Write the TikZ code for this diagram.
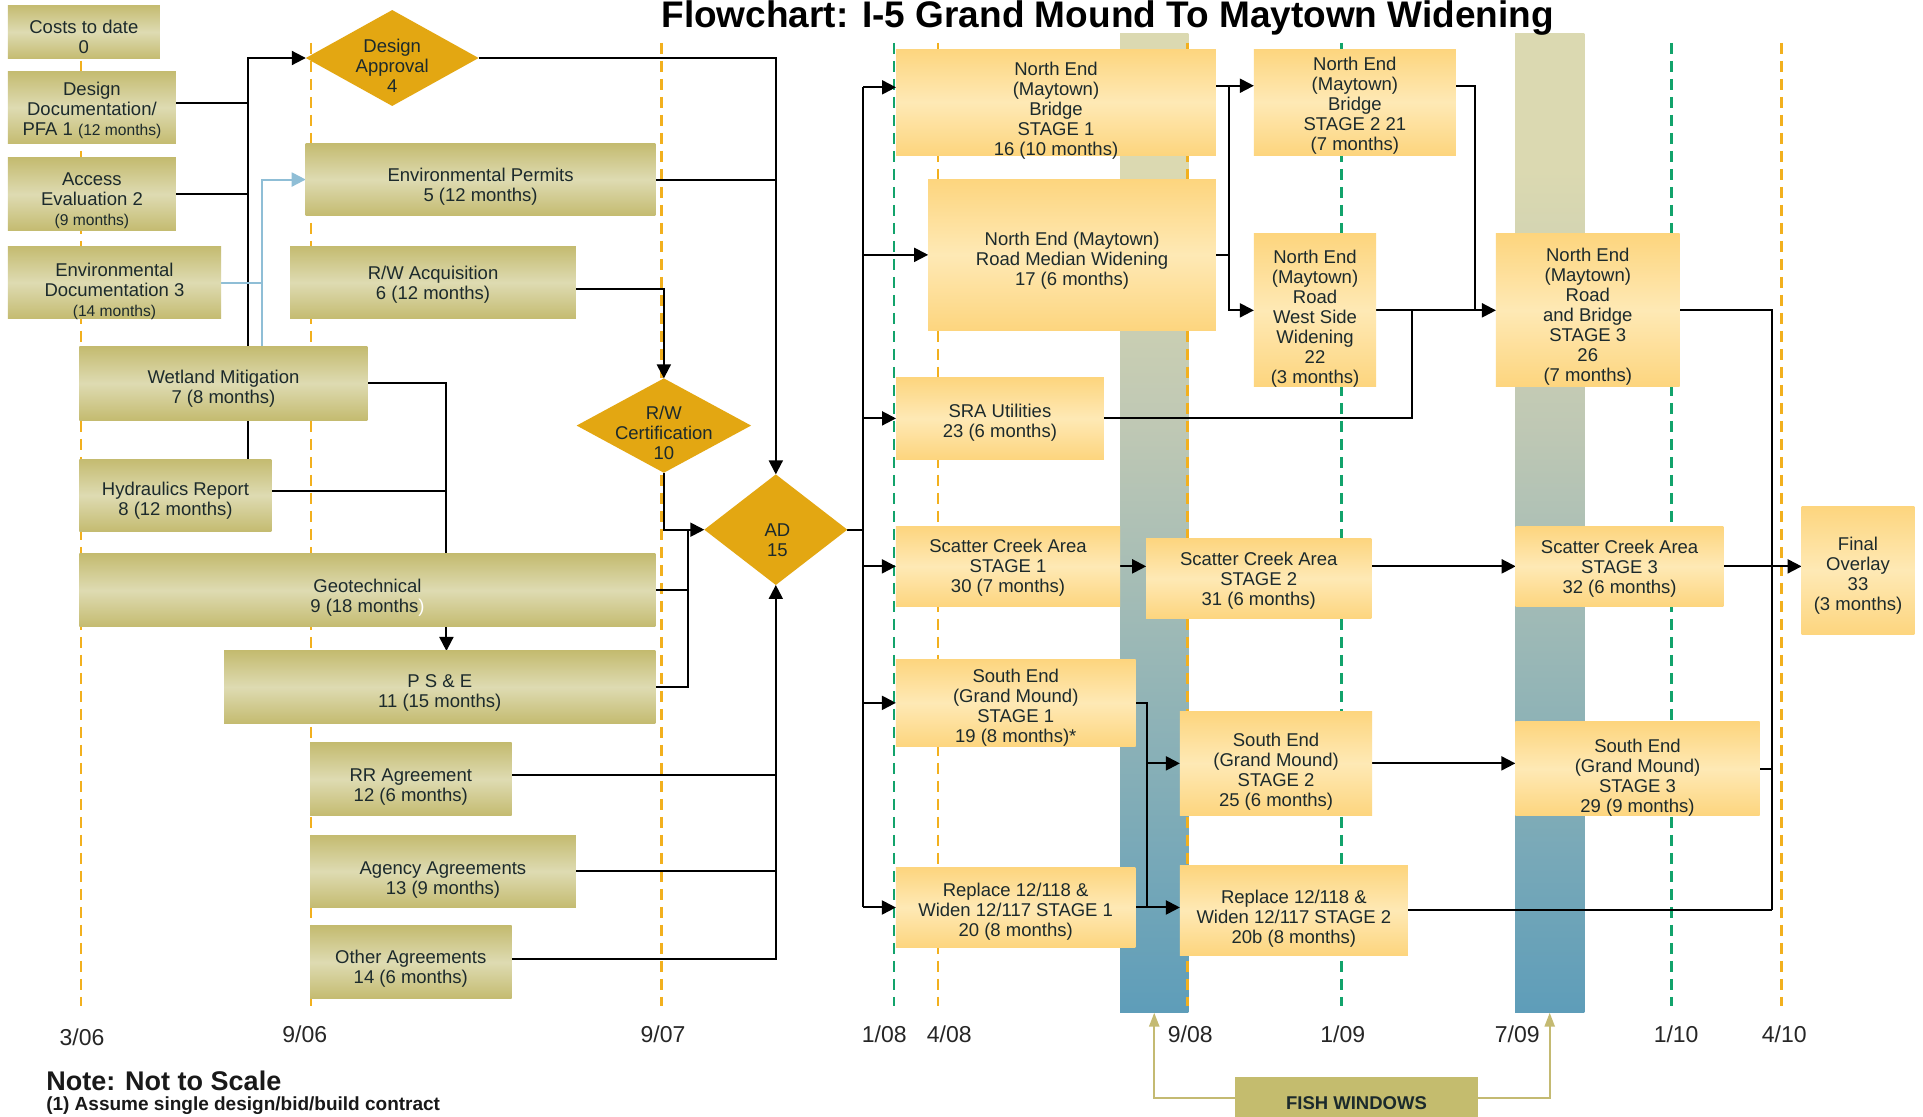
\documentclass[tikz,border=0pt]{standalone}
\usepackage{fontspec}
\setmainfont{Liberation Sans}
\usetikzlibrary{fit,shapes.geometric,arrows.meta,calc}

\definecolor{inkDark}{HTML}{1C2A2C}
\definecolor{boxOlive}{HTML}{C4BB70}
\definecolor{boxOliveLt}{HTML}{DEDBB2}
\definecolor{boxGold}{HTML}{FDD57E}
\definecolor{boxGoldLt}{HTML}{FEE9B5}
\definecolor{diaGold}{HTML}{E3A712}
\definecolor{dashOr}{HTML}{F2B01E}
\definecolor{dashGr}{HTML}{12A36B}
\definecolor{linkBlue}{HTML}{8FBED6}
\definecolor{fishTan}{HTML}{DBD9B1}
\definecolor{fishMid}{HTML}{BFC8B4}
\definecolor{fishBlue}{HTML}{5E9DB9}
\definecolor{tanLine}{HTML}{C4BA72}
\definecolor{tanBox}{HTML}{C4BC6E}

\pgfdeclarelayer{fish}
\pgfdeclarelayer{grid}
\pgfdeclarelayer{links}
\pgfsetlayers{fish,grid,links,main}

\pgfdeclareverticalshading{fishfade}{100bp}{color(0bp)=(fishBlue); color(25bp)=(fishBlue); color(55bp)=(fishMid); color(68bp)=(fishTan); color(100bp)=(fishTan)}

\newcommand\boxfont{\fontsize{9.25}{10}\selectfont}
\newcommand\monthsfont{\fontsize{7.8}{9}\selectfont}

% shaded task box spanning two corners, with its label shifted down by #1
\newcommand\taskbox[6][2pt]{%
  \node[#2, fit={(#4) (#5)}] (#3) {};
  \node[boxtext, yshift=-#1] (#3-t) at (#3.center) {#6};}

\tikzset{
  boxtext/.style={align=center, font=\boxfont, text=inkDark, inner sep=0pt},
  obox/.style={inner sep=0pt, outer sep=0pt, top color=boxOlive, bottom color=boxOlive, middle color=boxOliveLt},
  ybox/.style={inner sep=0pt, outer sep=0pt, top color=boxGold, bottom color=boxGold, middle color=boxGoldLt},
  fishbox/.style={inner sep=0pt, outer sep=0pt, fill=tanBox},
  gate/.style={diamond, fill=diaGold, inner sep=0pt, outer sep=0pt},
  ln/.style={line width=1pt, draw=black},
  arr/.style={ln, -{Triangle[length=7pt,width=7pt]}},
  bl/.style={line width=1pt, draw=linkBlue},
  blarr/.style={bl, -{Triangle[length=7pt,width=7pt]}},
  tanarr/.style={line width=1.2pt, draw=tanLine, -{Triangle[length=7pt,width=5pt]}},
  orline/.style={line width=1.3pt, draw=dashOr, dash pattern=on 5.5pt off 3.5pt},
  grline/.style={line width=1.3pt, draw=dashGr, dash pattern=on 5.5pt off 3.5pt},
  datelbl/.style={font=\fontsize{11.5}{12}\selectfont, text=black!85, inner sep=0pt},
  window/.style={inner sep=0pt, outer sep=0pt, shade, shading=fishfade},
}

\begin{document}
\begin{tikzpicture}[x=0.6132pt, y=-0.6132pt]
\useasboundingbox (0,0) rectangle (1568,910);

% fish windows
\begin{pgfonlayer}{fish}
  \fill[white] (0,0) rectangle (1568,910);
  \node[window, fit={(913.4,27.2) (968.9,825.7)}] (w1) {};
  \node[window, fit={(1235.4,27.2) (1291.8,825.7)}] (w2) {};
\end{pgfonlayer}

% date grid
\begin{pgfonlayer}{grid}
  \foreach \gx in {65.9,253.7,539.3,764.7,968.3,1452.8}
    \draw[orline] (\gx,35) -- (\gx,820);
  \foreach \gx in {728.8,1093.9,1363}
    \draw[grline] (\gx,35) -- (\gx,820);
\end{pgfonlayer}

% title
\node[font=\bfseries\fontsize{18.5}{20}\selectfont, anchor=base, inner sep=0pt] (title) at (903.2,22.5)
  {Flowchart: I-5 Grand Mound To Maytown Widening};

% design phase
\taskbox[2.4pt]{obox}{cd}{6.5,4.1}{130.3,48.1}{Costs to date\\0}
\taskbox[1.3pt]{obox}{dd}{6.5,57.9}{143.4,117.4}{Design\\Documentation/\\PFA 1 {\monthsfont (12 months)}}
\taskbox[3pt]{obox}{ae}{6.5,128.8}{143.4,188.1}{Access\\Evaluation 2\\{\monthsfont (9 months)}}
\taskbox[4.5pt]{obox}{ed}{6.5,200.6}{180.2,260.1}{Environmental\\Documentation 3\\{\monthsfont (14 months)}}
\taskbox[3.7pt]{obox}{ep}{249.3,116.9}{534.4,175.9}{Environmental Permits\\5 (12 months)}
\taskbox[1pt]{obox}{ra}{236.6,200.6}{469.6,260.1}{R/W Acquisition\\6 (12 months)}
\taskbox[2.9pt]{obox}{wm}{64.8,282.7}{299.6,342.5}{Wetland Mitigation\\7 (8 months)}
\taskbox[2.8pt]{obox}{hy}{64.8,374.3}{221.3,433.5}{Hydraulics Report\\8 (12 months)}
\taskbox[3.9pt]{obox}{gt}{64.8,451.7}{534.4,511}{Geotechnical\\9 (18 months\textcolor{white}{)}}
\taskbox[2.9pt]{obox}{ps}{182.7,530.8}{534.4,589.8}{P S \& E\\11 (15 months)}
\taskbox[3.8pt]{obox}{rr}{252.8,605.8}{417.1,665.1}{RR Agreement\\12 (6 months)}
\taskbox[4.4pt]{obox}{ag}{252.8,680.9}{469.5,740.1}{Agency Agreements\\13 (9 months)}
\taskbox[3.4pt]{obox}{ot}{252.8,755}{417.1,814.3}{Other Agreements\\14 (6 months)}

% decision points
\node[gate, minimum width=86.4pt, minimum height=47.95pt] (da) at (319.8,47.3) {};
\node[boxtext, yshift=-3.8pt] (da-t) at (da.center) {Design\\Approval\\4};
\node[gate, minimum width=87.2pt, minimum height=47.2pt] (rc) at (541.3,347) {};
\node[boxtext, yshift=-3.5pt] (rc-t) at (rc.center) {R/W\\Certification\\10};
\node[gate, minimum width=71.5pt, minimum height=55.3pt] (ad) at (632.6,431.9) {};
\node[boxtext, yshift=-5.2pt, xshift=0.8pt] (ad-t) at (ad.center) {AD\\15};

% construction stages
\taskbox[4.4pt]{ybox}{n1}{730.6,40}{991.5,126.4}{North End\\(Maytown)\\Bridge\\STAGE 1\\16 (10 months)}
\taskbox[1.6pt]{ybox}{n2}{1022.4,40}{1187.1,126.4}{North End\\(Maytown)\\Bridge\\STAGE 2 21\\(7 months)}
\taskbox[3pt]{ybox}{nm}{756.8,146}{991.5,269.6}{North End (Maytown)\\Road Median Widening\\17 (6 months)}
\taskbox[4pt]{ybox}{nw}{1022.4,190.8}{1122.1,315.3}{North End\\(Maytown)\\Road\\West Side\\Widening\\22\\(3 months)}
\taskbox[3.3pt]{ybox}{n3}{1219.8,190.8}{1369.5,315.3}{North End\\(Maytown)\\Road\\and Bridge\\STAGE 3\\26\\(7 months)}
\taskbox[2.2pt]{ybox}{su}{730.6,308}{900,374.3}{SRA Utilities\\23 (6 months)}
\taskbox[0.9pt]{ybox}{s1}{730.5,428.9}{913.4,494.7}{Scatter Creek Area\\STAGE 1\\30 (7 months)}
\taskbox[1.3pt]{ybox}{s2}{934.6,438.7}{1118.1,504.5}{Scatter Creek Area\\STAGE 2\\31 (6 months)}
\taskbox[1.1pt]{ybox}{s3}{1235.9,428.9}{1405.3,494.7}{Scatter Creek Area\\STAGE 3\\32 (6 months)}
\taskbox[2.8pt]{ybox}{fo}{1469,412.6}{1561,517.5}{Final\\Overlay\\33\\(3 months)}
\taskbox[2.5pt]{ybox}{g1}{730.5,537.4}{925.9,608.8}{South End\\(Grand Mound)\\STAGE 1\\19 (8 months)*}
\taskbox[4.2pt]{ybox}{g2}{962.1,579.8}{1118.9,665.1}{South End\\(Grand Mound)\\STAGE 2\\25 (6 months)}
\taskbox[4.4pt]{ybox}{g3}{1235.6,588.7}{1434.8,665.1}{South End\\(Grand Mound)\\STAGE 3\\29 (9 months)}
\taskbox[2.2pt]{ybox}{p1}{730.5,707.2}{925.8,772.7}{Replace 12/118 \&\\Widen 12/117 STAGE 1\\20 (8 months)}
\taskbox[4pt]{ybox}{p2}{962.1,706.1}{1147.9,778.7}{Replace 12/118 \&\\Widen 12/117 STAGE 2\\20b (8 months)}

% fish window legend
\taskbox[2.8pt]{fishbox}{fw}{1007.3,878.2}{1204.8,912}{\bfseries FISH WINDOWS}

% dates
\node[datelbl] (d306) at (66.9,845.5) {3/06};
\node[datelbl] (d906) at (248.5,843) {9/06};
\node[datelbl] (d907) at (540.6,843) {9/07};
\node[datelbl] (d108) at (721,843.5) {1/08};
\node[datelbl] (d408) at (774,843.5) {4/08};
\node[datelbl] (d908) at (970.5,843.5) {9/08};
\node[datelbl] (d109) at (1094.9,843.5) {1/09};
\node[datelbl] (d709) at (1237.2,843.5) {7/09};
\node[datelbl] (d110) at (1366.7,843.5) {1/10};
\node[datelbl] (d410) at (1454.9,843.5) {4/10};

% notes
\node[anchor=west, font=\bfseries\fontsize{13.5}{15}\selectfont, text=black!90, inner sep=0pt] (note) at (37.4,881.5) {Note: Not to Scale};
\node[anchor=west, font=\bfseries\fontsize{9.5}{11}\selectfont, text=black!90, inner sep=0pt] (note1) at (37.4,901.8) {(1) Assume single design/bid/build contract};

% connectors
\begin{pgfonlayer}{links}
  % into Design Approval
  \coordinate (tA) at (202,0);
  \draw[arr] (hy.north -| tA) |- (da.west);
  \path ($(dd.east)+(0,-4)$) coordinate (dd-o);
  \draw[ln] (dd-o) -- (dd-o -| tA);
  \draw[ln] (ae.east) -- (ae.east -| tA);
  % environmental documentation to permits
  \coordinate (tB) at (214,0);
  \draw[bl] (ed.east) -- (ed.east -| tB);
  \draw[blarr] (wm.north -| tB) |- (ep.west);
  % wetland and hydraulics to PS&E
  \coordinate (tW) at (364,0);
  \draw[arr] (wm.east) -| (ps.north -| tW);
  \path ($(hy.east)+(0,-3.8)$) coordinate (hy-o);
  \draw[ln] (hy-o) -- (hy-o -| tW);
  % into AD
  \draw[arr] (da.east) -| (ad.north);
  \draw[ln] (ep.east) -- (ep.east -| ad.north);
  \draw[arr] ($(ra.east)+(0,5)$) -| (rc.north);
  \draw[arr] (rc.south) |- (ad.west);
  \coordinate (tG) at (561,0);
  \draw[ln] (gt.east) -| (ad.west -| tG);
  \draw[ln] (ps.east) -| (ad.west -| tG);
  \path ($(rr.east)+(0,-3.7)$) coordinate (rr-o);
  \draw[arr] (rr-o) -| (ad.south);
  \draw[ln] (ag.east) -- (ag.east -| ad.south);
  \path ($(ot.east)+(0,-3)$) coordinate (ot-o);
  \draw[ln] (ot-o) -| (rr-o -| ad.south);
  % AD to construction stages
  \coordinate (tR) at (704,0);
  \draw[ln] (ad.east) -- (ad.east -| tR);
  \path ($(n1.west)+(0,-12)$) coordinate (n1-in);
  \draw[ln] (n1-in -| tR) -- (p1.west -| tR);
  \draw[arr] (n1-in -| tR) -- (n1-in);
  \draw[arr] (nm.west -| tR) -- (nm.west);
  \draw[arr] (su.west -| tR) -- (su.west);
  \draw[arr] (s1.west -| tR) -- (s1.west);
  \draw[arr] (g1.west -| tR) -- (g1.west);
  \draw[arr] (p1.west -| tR) -- (p1.west);
  % north end
  \coordinate (tN) at (1002.5,0);
  \path ($(n1.east)+(0,-13.3)$) coordinate (n1-out);
  \draw[arr] (n1-out) -- (n1-out -| n2.west);
  \draw[arr] (n1-out -| tN) |- (nw.west);
  \draw[ln] (nm.east) -- (nm.east -| tN);
  \coordinate (tS) at (1202.9,0);
  \path ($(n2.east)+(0,-13.1)$) coordinate (n2-out);
  \draw[arr] (n2-out) -| (tS |- n3.west) -- (n3.west);
  \draw[ln] (nw.east) -- (nw.east -| tS);
  \coordinate (tU) at (1151.7,0);
  \draw[ln] (su.east) -| (nw.east -| tU);
  % scatter creek
  \draw[arr] (s1.east) -- (s1.east -| s2.west);
  \draw[arr] (s1.east -| s2.east) -- (s3.west);
  \draw[arr] (s3.east) -- (s3.east -| fo.west);
  % south end and bridges
  \coordinate (tQ) at (935,0);
  \draw[ln] (g1.east) -| (p1.east -| tQ);
  \draw[arr] (g1.east -| tQ) |- (g2.west);
  \draw[arr] (p1.east) -- (p1.east -| p2.west);
  \draw[arr] (g2.east) -- (g2.east -| g3.west);
  % into final overlay
  \coordinate (tF) at (1445,0);
  \draw[ln] (n3.east) -| (p2.east -| tF);
  \draw[ln] (g3.east) -- (g3.east -| tF);
  \draw[ln] (p2.east) -- (p2.east -| tF);
  % fish window pointers
  \draw[tanarr] (fw.west) -| (w1.south);
  \draw[tanarr] (fw.east) -| (w2.south);
\end{pgfonlayer}
\end{tikzpicture}
\end{document}
